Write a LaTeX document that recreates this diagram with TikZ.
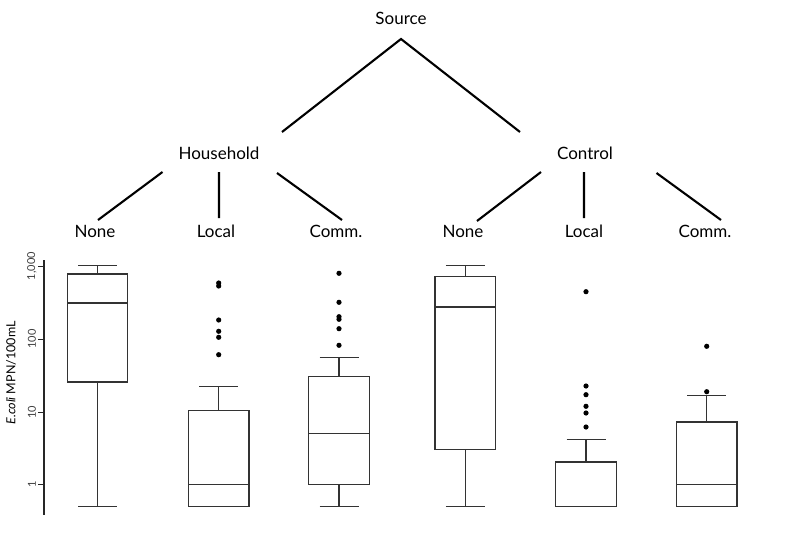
\documentclass[tikz,border=0pt]{standalone}
\usepackage{fontspec}
\setmainfont{Lato}
\tikzset{
  lbl/.style={font=\fontsize{17}{20}\selectfont, inner sep=0pt},
  tree/.style={line width=2.1pt, black},
  bx/.style={line width=1.2pt, black!80},
  outl/.style={fill=black},
  ticklbl/.style={font=\fontsize{11}{12}\selectfont, rotate=90, inner sep=0pt, black!75},
}
\newcommand\bxplot[6]{%
  \draw[bx] ({#1-30.3},#3) rectangle ({#1+30.3},#5);
  \draw[bx] ({#1-30.3},#4) -- ({#1+30.3},#4);
  \draw[bx] (#1,#5) -- (#1,#6) ({#1-19.5},#6) -- ({#1+19.5},#6);
  \draw[bx] (#1,#3) -- (#1,#2) ({#1-19.5},#2) -- ({#1+19.5},#2);
}
\newcommand\outpt[2]{\fill[outl] (#1,#2) circle (2.6);}
\begin{document}
\begin{tikzpicture}[x=1pt,y=-1pt]
\useasboundingbox[fill=white] (0,0) rectangle (800,543);
% tree labels
\node[lbl] (src) at (401,18) {Source};
\node[lbl] (hh) at (219,153) {Household};
\node[lbl] (ct) at (585,153) {Control};
\node[lbl] (l1) at (95,231) {None};
\node[lbl] (l2) at (216,231) {Local};
\node[lbl] (l3) at (336,231) {Comm.};
\node[lbl] (l4) at (463,231) {None};
\node[lbl] (l5) at (584,231) {Local};
\node[lbl] (l6) at (705,231) {Comm.};
% tree connectors
\coordinate (apex) at (401,39);
\coordinate (hhT) at (282,132);
\coordinate (ctT) at (520,132);
\draw[tree] (hhT) -- (apex) -- (ctT);
\coordinate (h1a) at (162.5,172); \coordinate (h1b) at (98,220);
\coordinate (h2a) at (219,172);   \coordinate (h2b) at (219,218);
\coordinate (h3a) at (277,173);   \coordinate (h3b) at (342,220);
\coordinate (c1a) at (541,172);   \coordinate (c1b) at (477,221);
\coordinate (c2a) at (584,172);   \coordinate (c2b) at (584,218);
\coordinate (c3a) at (656.5,173); \coordinate (c3b) at (721,220);
\draw[tree] (h1a) -- (h1b) (h2a) -- (h2b) (h3a) -- (h3b);
\draw[tree] (c1a) -- (c1b) (c2a) -- (c2b) (c3a) -- (c3b);
% axis
\draw[line width=1.1pt, black!85] (44,260) -- (44,515);
\foreach \yy/\tl in {484/1, 412/10, 339/100, 266/{1,000}} {
  \draw[line width=1pt, black!85] (38,\yy) -- (44,\yy);
  \node[ticklbl] at (32,\yy) {\tl};
}
\node[font=\fontsize{12.5}{14}\selectfont, rotate=90, inner sep=0pt] (ylab) at (11,373) {\textit{E.coli} MPN/100mL};
% boxplots
\bxplot{97.5}{506.7}{382}{303}{274}{265.7}
\bxplot{218.7}{506.7}{506.7}{484.3}{410.3}{386.7}
\bxplot{339}{506.7}{484.3}{433.7}{376.3}{357.7}
\bxplot{465.3}{506.7}{449.3}{307}{276.7}{265.7}
\bxplot{586}{506.7}{506.7}{506.7}{462}{439.7}
\bxplot{706.7}{506.7}{506.7}{484.3}{422}{395.7}
% outliers
\foreach \yy in {283,286,320,331.3,337.3,354.7} {\outpt{218.7}{\yy}}
\foreach \yy in {273.3,302.3,316.7,319.3,328.7,345.3} {\outpt{339}{\yy}}
\foreach \yy in {291.7,386,394.7,406.3,413,427} {\outpt{586}{\yy}}
\foreach \yy in {346.3,391.7} {\outpt{706.7}{\yy}}
\end{tikzpicture}
\end{document}
